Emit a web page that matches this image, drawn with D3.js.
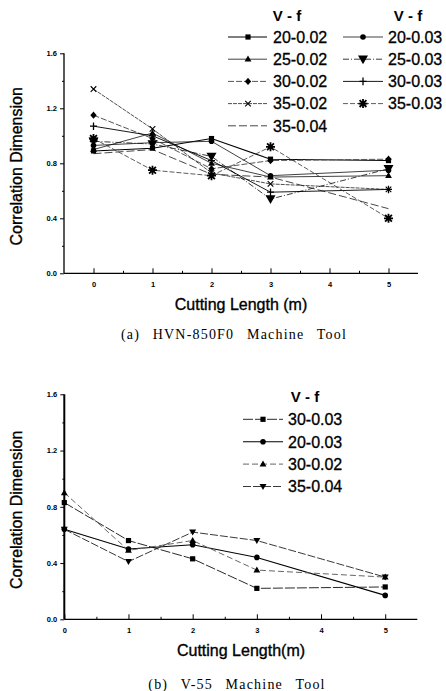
<!DOCTYPE html>
<html>
<head>
<meta charset="utf-8">
<script src="https://cdn.jsdelivr.net/npm/d3@7"></script>
<style>
  html, body { margin: 0; padding: 0; background: #fff; }
  svg { display: block; }
</style>
</head>
<body>
<div id="chart"></div>
<script>
// cutting length (m)
const lengths = [0, 1, 2, 3, 5];

// (a) HVN-850F0, correlation dimension per V-f
const a20_002 = [0.89, 0.91, 0.98, 0.83, 0.82];
const a25_002 = [0.90, 1.02, 0.80, 0.70, 0.71];
const a30_002 = [1.15, 0.98, 0.76, 0.82, 0.83];
const a35_002 = [1.34, 1.05, 0.73, 0.65, 0.61];
const a35_004 = [0.87, 0.90, 0.72, 0.70, 0.47];
const a20_003 = [0.93, 0.95, 0.96, 0.71, 0.75];
const a25_003 = [0.96, 0.94, 0.85, 0.54, 0.76];
const a30_003 = [1.07, 1.00, 0.82, 0.59, 0.61];
const a35_003 = [0.98, 0.75, 0.71, 0.92, 0.40];

// (b) V-55
const b30_003 = [0.83, 0.56, 0.43, 0.22, 0.23];
const b20_003 = [0.64, 0.50, 0.53, 0.44, 0.17];
const b30_002 = [0.90, 0.49, 0.56, 0.35, 0.30];
const b35_004 = [0.64, 0.41, 0.62, 0.56, 0.30];

const yTicks = [0, 0.4, 0.8, 1.2, 1.6];
const yMinor = [0.2, 0.6, 1.0, 1.4];
const xTicks = [0, 1, 2, 3, 4, 5];

const W = 446, H = 691;
const svg = d3.select("#chart").append("svg")
  .attr("width", W).attr("height", H)
  .style("font-family", "'Liberation Sans', Arial, sans-serif");
svg.append("rect").attr("width", W).attr("height", H).attr("fill", "#fff");

function marker(g, type, x, y){
  const m = g.append("g").attr("transform", `translate(${x},${y})`);
  if(type==="sq") m.append("rect").attr("x",-2.6).attr("y",-2.6).attr("width",5.2).attr("height",5.2).attr("fill","#000");
  else if(type==="ci") m.append("circle").attr("r",2.8).attr("fill","#000");
  else if(type==="tu") m.append("path").attr("d","M0,-3.6L3.4,2.4L-3.4,2.4Z").attr("fill","#000");
  else if(type==="td") m.append("path").attr("d","M-5,-3.8L5,-3.8L0,5Z").attr("fill","#000");
  else if(type==="tdS") m.append("path").attr("d","M-3.5,-2.6L3.5,-2.6L0,3.4Z").attr("fill","#000");
  else if(type==="di") m.append("path").attr("d","M0,-3.6L3.2,0L0,3.6L-3.2,0Z").attr("fill","#000");
  else if(type==="pl") m.append("path").attr("d","M-3.5,0H3.5M0,-3.8V3.8").attr("stroke","#000").attr("stroke-width",1.3);
  else if(type==="x") m.append("path").attr("d","M-2.8,-2.8L2.8,2.8M-2.8,2.8L2.8,-2.8").attr("stroke","#000").attr("stroke-width",1.1);
  else if(type==="st") m.append("path").attr("d","M-4.5,0H4.5M0,-4.5V4.5M-3.4,-3.4L3.4,3.4M-3.4,3.4L3.4,-3.4").attr("stroke","#000").attr("stroke-width",1.8);
}

function panel(opt){
  const x = d3.scaleLinear().domain(opt.xDomain).range([opt.left, opt.right]);
  const y = d3.scaleLinear().domain([0, 1.6]).range([opt.bottom, opt.top]);
  const g = svg.append("g");

  const line = d3.line().x((d,i)=>x(lengths[i])).y(d=>y(d));
  opt.series.forEach(s=>{
    g.append("path").datum(s.values)
      .attr("d", line).attr("fill","none")
      .attr("stroke", s.color).attr("stroke-width", s.width)
      .attr("stroke-dasharray", s.dash || null);
  });
  opt.series.forEach(s=>{
    s.values.forEach((v,i)=> marker(g, s.mark, x(lengths[i]), y(v)));
  });

  // axes
  const ya = g.append("g").attr("transform", `translate(${opt.left},0)`)
    .call(d3.axisLeft(y).tickValues(yTicks).tickFormat(d3.format(".1f")).tickSize(4).tickPadding(3));
  g.append("g").attr("transform", `translate(${opt.left},0)`)
    .call(d3.axisLeft(y).tickValues(yMinor).tickFormat("").tickSize(2))
    .select(".domain").remove();
  ya.select(".domain").attr("d", `M0,${y(1.6)}V${y(0)}`).attr("stroke-width", opt.yAxisW);

  const xa = g.append("g").attr("transform", `translate(0,${opt.bottom})`)
    .call(d3.axisBottom(x).tickValues(xTicks).tickFormat(d3.format("d")).tickSize(-5).tickPadding(8));
  g.append("g").attr("transform", `translate(0,${opt.bottom})`)
    .call(d3.axisBottom(x).tickValues([0.5,1.5,2.5,3.5,4.5]).tickFormat("").tickSize(-2.5))
    .select(".domain").remove();
  xa.select(".domain").attr("d", `M${opt.left},0H${opt.right}`).attr("stroke-width", 1.3);

  g.selectAll(".tick text").attr("font-size", 7.5).attr("font-weight", "bold").attr("fill","#000");
  g.selectAll(".tick line").attr("stroke","#000");

  g.append("text").attr("x", 241).attr("y", opt.bottom + 37)
    .attr("text-anchor","middle").attr("font-size", 16)
    .attr("stroke","#000").attr("stroke-width",0.35).text(opt.xTitle);
  g.append("text").attr("transform", `translate(${opt.left - 42},${(opt.top+opt.bottom)/2 + 3}) rotate(-90)`)
    .attr("text-anchor","middle").attr("font-size", 16)
    .attr("stroke","#000").attr("stroke-width",0.35).text("Correlation Dimension");
  g.append("text").attr("x", opt.capX).attr("y", opt.capY)
    .attr("text-anchor","middle").attr("font-family","'Liberation Serif', 'Times New Roman', serif")
    .attr("font-size", 14).attr("letter-spacing", opt.capLS).attr("word-spacing", opt.capWS).text(opt.caption);

  // legend
  opt.legend.forEach(col=>{
    g.append("text").attr("x", col.hx).attr("y", col.hy).attr("text-anchor","middle")
      .attr("font-size", 15).attr("font-weight","bold").text("V - f");
    col.items.forEach((s,i)=>{
      const ly = col.y0 + i*col.step;
      g.append("line").attr("x1", col.x0).attr("x2", col.x1).attr("y1", ly).attr("y2", ly)
        .attr("stroke", s.color).attr("stroke-width", s.width).attr("stroke-dasharray", s.dash || null);
      marker(g, s.mark, col.mx, ly);
      g.append("text").attr("x", col.tx).attr("y", ly + 5.8).attr("font-size", 16)
        .attr("stroke","#000").attr("stroke-width",0.3).text(s.label);
    });
  });
}

const topA = [
  {label:"20-0.02", values:a20_002, mark:"sq", color:"#000", width:1.1},
  {label:"25-0.02", values:a25_002, mark:"tu", color:"#111", width:0.8},
  {label:"30-0.02", values:a30_002, mark:"di", color:"#555", width:1, dash:"6,2"},
  {label:"35-0.02", values:a35_002, mark:"x", color:"#222", width:0.8, dash:"4,1"},
  {label:"35-0.04", values:a35_004, mark:"none", color:"#333", width:0.9, dash:"8,3"}
];
const topB = [
  {label:"20-0.03", values:a20_003, mark:"ci", color:"#111", width:0.8},
  {label:"25-0.03", values:a25_003, mark:"td", color:"#222", width:0.9, dash:"6,2,1,2"},
  {label:"30-0.03", values:a30_003, mark:"pl", color:"#000", width:0.9},
  {label:"35-0.03", values:a35_003, mark:"st", color:"#333", width:0.8, dash:"5,2"}
];
const botItems = [
  {label:"30-0.03", values:b30_003, mark:"sq", color:"#111", width:0.9, dash:"10,2"},
  {label:"20-0.03", values:b20_003, mark:"ci", color:"#000", width:1.1},
  {label:"30-0.02", values:b30_002, mark:"tu", color:"#666", width:1, dash:"6,3"},
  {label:"35-0.04", values:b35_004, mark:"tdS", color:"#222", width:0.9, dash:"8,2"}
];

panel({
  xDomain:[-0.5, 5.5], left:64, right:418, top:53.3, bottom:273.3, yAxisW:1.3,
  series: topA.concat(topB),
  xTitle:"Cutting Length (m)",
  caption:"(a) HVN-850F0 Machine Tool", capX:234, capY:339, capLS:1.2, capWS:8,
  legend:[
    {hx:287, hy:21, x0:228, x1:267, mx:248, tx:273, y0:37, step:22.2, items:topA},
    {hx:408, hy:21, x0:343, x1:383, mx:363, tx:388, y0:37, step:22.2, items:topB}
  ]
});

panel({
  xDomain:[0, 5.5], left:64.3, right:417.3, top:394.3, bottom:619.3, yAxisW:2,
  series: botItems,
  xTitle:"Cutting Length(m)",
  caption:"(b) V-55 Machine Tool", capX:237, capY:689, capLS:1.2, capWS:8,
  legend:[
    {hx:305, hy:402, x0:243, x1:283, mx:263, tx:288, y0:419.3, step:22.4, items:botItems}
  ]
});
</script>
</body>
</html>
